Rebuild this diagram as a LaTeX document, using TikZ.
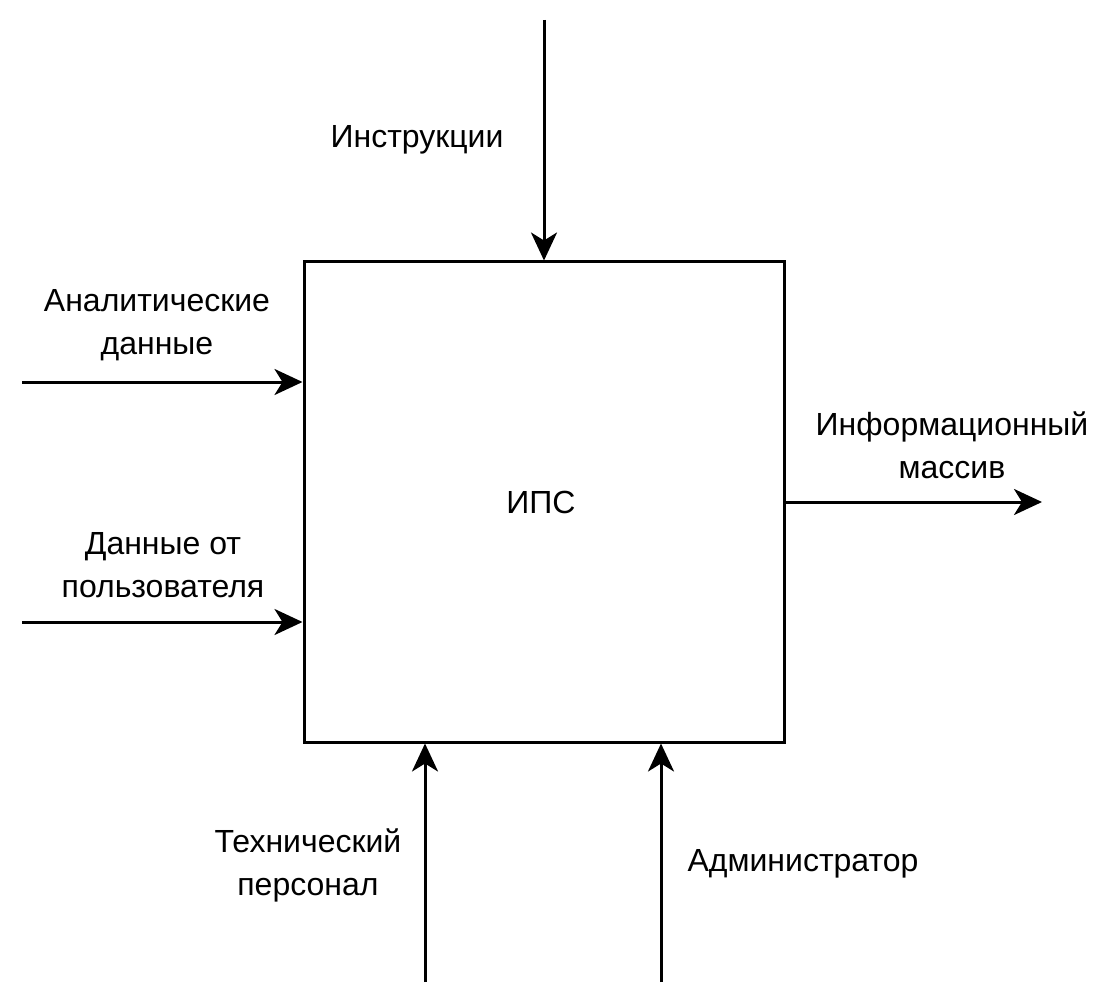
\documentclass[tikz,border=0pt]{standalone}
\usepackage{fontspec}
\setmainfont{Liberation Sans}
\usetikzlibrary{arrows.meta}

\tikzset{
  flow/.style={line width=3pt,-{Stealth[length=28pt,width=26pt,inset=8pt]}},
  blockbox/.style={draw,line width=3pt,minimum width=480pt,minimum height=480pt,inner sep=0pt},
  lbl/.style={align=center,font=\fontsize{32pt}{43pt}\selectfont,inner sep=0pt}
}

\begin{document}
\begin{tikzpicture}[x=1pt,y=-1pt]
            \useasboundingbox (0,0) rectangle (1095,1008);
            % Blok
            \node[blockbox] (ips) at (544,502) {};
            \node[lbl] (ipslbl) at (541,502) {ИПС};
            % Upravlenie
            \coordinate (ctl) at (544,20);
            \draw[flow] (ctl) -- (ips.north);
            \node[lbl] (instr) at (417,140) {Инструкции};
            % Vhody
            \coordinate (inA) at (22,382);
            \coordinate (inB) at (22,622);
            \draw[flow] (inA) -- (inA -| ips.west);
            \draw[flow] (inB) -- (inB -| ips.west);
            \node[lbl] (analit) at (157,325) {Аналитические\\данные};
            \node[lbl] (polz) at (163,565) {Данные от\\пользователя};
            % Vyhod
            \coordinate (outA) at (1042,502);
            \draw[flow] (ips.east) -- (outA);
            \node[lbl] (massiv) at (952,445) {Информационный\\массив};
            % Mehanizmy
            \coordinate (mechA) at (425,982);
            \coordinate (mechB) at (661,982);
            \draw[flow] (mechA) -- (mechA |- ips.south);
            \draw[flow] (mechB) -- (mechB |- ips.south);
            \node[lbl] (tehper) at (308,865) {Технический\\персонал};
            \node[lbl] (admin) at (803,864) {Администратор};
        \end{tikzpicture}
\end{document}
